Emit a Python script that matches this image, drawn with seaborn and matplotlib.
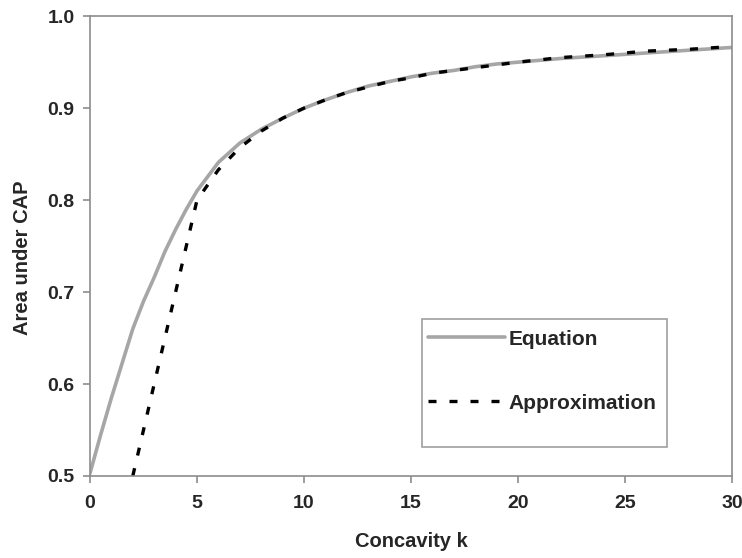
import matplotlib
matplotlib.use("Agg")
import matplotlib.pyplot as plt
from matplotlib.patches import Rectangle
import seaborn as sns
import pandas as pd

# Area under the CAP curve as a function of concavity k
eq_k = [0, 0.5, 1, 1.4, 2, 2.5, 3, 3.5, 4, 4.5, 5, 6, 7, 8, 9, 10, 11, 12, 13,
        14, 15, 16, 17, 18, 19, 20, 22, 24, 26, 28, 30]
eq_area = [0.503, 0.545, 0.585, 0.615, 0.660, 0.690, 0.716, 0.744, 0.768, 0.790,
           0.810, 0.841, 0.862, 0.877, 0.889, 0.900, 0.909, 0.917, 0.924, 0.929,
           0.934, 0.938, 0.941, 0.945, 0.948, 0.950, 0.954, 0.957, 0.960, 0.963,
           0.966]

ap_k = [2, 3, 4, 5, 6, 7, 8, 9, 10, 11, 12, 13, 14, 15, 16, 17, 18, 19, 20,
        22, 24, 26, 28, 30]
ap_area = [0.500, 0.600, 0.700, 0.800, 0.833, 0.857, 0.875, 0.889, 0.900, 0.909,
           0.917, 0.923, 0.929, 0.933, 0.938, 0.941, 0.944, 0.947, 0.950, 0.955,
           0.958, 0.962, 0.964, 0.967]

x_ticks = [0, 5, 10, 15, 20, 25, 30]
y_ticks = [0.5, 0.6, 0.7, 0.8, 0.9, 1.0]

sns.set_style("white")
plt.rcParams["font.family"] = ["Liberation Sans", "DejaVu Sans"]
plt.rcParams["font.weight"] = "bold"

eq_df = pd.DataFrame({"k": eq_k, "area": eq_area})
ap_df = pd.DataFrame({"k": ap_k, "area": ap_area})

fig = plt.figure(figsize=(7.42, 5.58), dpi=100)
ax = fig.add_axes([0.1213, 0.147, 0.8652, 0.824])

sns.lineplot(data=eq_df, x="k", y="area", ax=ax, color="#a6a6a6",
             linewidth=2.6, label="Equation", legend=False)
sns.lineplot(data=ap_df, x="k", y="area", ax=ax, color="black",
             linewidth=2.4, label="Approximation", legend=False)
ax.lines[1].set_dashes((2.4, 3.9))

ax.set_xlim(0, 30)
ax.set_ylim(0.5, 1.0)
ax.set_xticks(x_ticks)
ax.set_yticks(y_ticks)
ax.set_xticklabels([str(v) for v in x_ticks])
ax.set_yticklabels([f"{v:.1f}" for v in y_ticks])

gray = "#8c8c8c"
for s in ax.spines.values():
    s.set_color(gray)
    s.set_linewidth(1.2)
ax.tick_params(axis="both", direction="out", length=5, width=1.2, color=gray,
               labelsize=14, bottom=True, left=True)
ax.tick_params(axis="x", pad=9)
ax.tick_params(axis="y", pad=6)
for lbl in ax.get_xticklabels() + ax.get_yticklabels():
    lbl.set_fontweight("bold")

ax.set_xlabel("Concavity k", fontsize=14.5, fontweight="bold")
ax.set_ylabel("Area under CAP", fontsize=14.5, fontweight="bold")
ax.xaxis.set_label_coords(0.5, -0.122)
ax.yaxis.set_label_coords(-0.0903, 0.475)

# Legend box with the two entries in its upper part
ax.add_patch(Rectangle((0.5167, 0.0637), 0.3816, 0.2772, transform=ax.transAxes,
                       facecolor="white", edgecolor="#a0a0a0", linewidth=1.2,
                       zorder=3))
leg = ax.legend(loc="upper left", bbox_to_anchor=(0.526, 0.318),
                frameon=False, fontsize=15, handlelength=3.7,
                handletextpad=0.2, labelspacing=2.15, borderpad=0,
                borderaxespad=0)
leg.set_zorder(4)
for t in leg.get_texts():
    t.set_fontweight("bold")

fig.savefig("out.png", dpi=100)
